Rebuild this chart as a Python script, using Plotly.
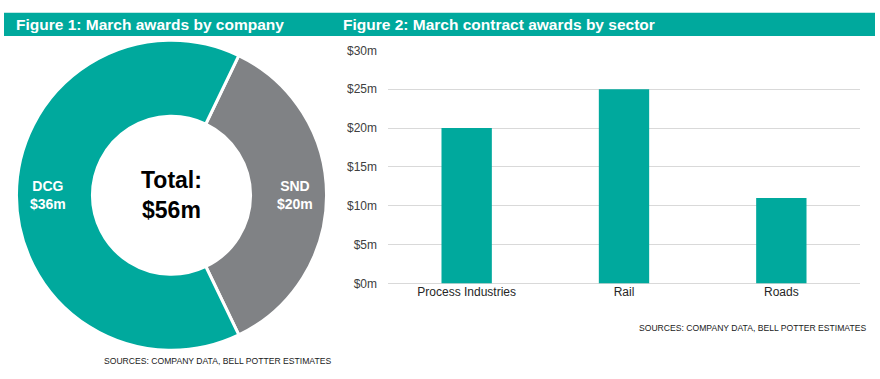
import math
import plotly.graph_objects as go

W, H = 880, 379

# Data
companies = ["SND", "DCG"]
company_values = [20, 36]
total_value = 56
sectors = ["Process Industries", "Rail", "Roads"]
sector_values = [20, 25, 11]
y_ticks = [0, 5, 10, 15, 20, 25, 30]
y_tick_labels = ["$0m", "$5m", "$10m", "$15m", "$20m", "$25m", "$30m"]

TEAL = "#00A99D"
GREY = "#808285"
FONT = "Liberation Sans, Arial, sans-serif"

def px_x(x):
    return x / W

def px_y(y):
    return 1 - y / H

fig = go.Figure()

# Donut
cx, cy, r = 171.5, 195.5, 161
hole = 0.51
rotation = 25.7
fig.add_trace(go.Pie(
    labels=companies,
    values=company_values,
    sort=False,
    direction="clockwise",
    rotation=rotation,
    hole=hole,
    marker=dict(colors=[GREY, TEAL], line=dict(color="white", width=3)),
    textinfo="none",
    hoverinfo="skip",
    showlegend=False,
    domain=dict(x=[px_x(cx - r), px_x(cx + r)], y=[px_y(cy + r), px_y(cy - r)]),
))

# Slice labels placed at the middle of each ring segment
label_annotations = []
total = sum(company_values)
start = rotation
label_r = r * (1 + hole) / 2 + 1.5
for name, val in zip(companies, company_values):
    span = 360.0 * val / total
    mid = math.radians(start + span / 2)
    lx = cx + label_r * math.sin(mid)
    ly = cy - label_r * math.cos(mid)
    label_annotations.append(dict(
        text="<b>%s<br>$%dm</b>" % (name, val), xref="paper", yref="paper",
        x=px_x(lx), y=px_y(ly), xanchor="center", yanchor="middle", showarrow=False,
        font=dict(family=FONT, size=14, color="white")))
    start += span

# Bars
fig.add_trace(go.Bar(
    x=sectors,
    y=sector_values,
    marker=dict(color=TEAL, line=dict(width=0)),
    xaxis="x", yaxis="y",
    showlegend=False,
    hoverinfo="skip",
))

fig.update_layout(
    width=W, height=H,
    margin=dict(l=0, r=0, t=0, b=0),
    paper_bgcolor="white",
    plot_bgcolor="white",
    bargap=0.68,
    font=dict(family=FONT),
    xaxis=dict(
        domain=[px_x(388), px_x(860)],
        anchor="y",
        showgrid=False,
        showline=False,
        ticks="",
        tickfont=dict(family=FONT, size=12, color="#262626"),
    ),
    yaxis=dict(
        domain=[px_y(287), px_y(45)],
        anchor="x",
        range=[0, 30],
        tickvals=y_ticks,
        ticktext=y_tick_labels,
        showgrid=True,
        gridcolor="#D9D9D9",
        gridwidth=1,
        zeroline=True,
        zerolinecolor="#D9D9D9",
        zerolinewidth=1,
        showline=False,
        ticks="",
        ticklabelstandoff=10,
        tickfont=dict(family=FONT, size=12, color="#404040"),
    ),
    shapes=[
        dict(type="rect", xref="paper", yref="paper",
             x0=px_x(4), x1=px_x(875), y0=px_y(30), y1=px_y(6),
             fillcolor=TEAL, line=dict(width=0), layer="below"),
    ],
    annotations=[
        dict(text="<b>Figure 1: March awards by company</b>", xref="paper", yref="paper",
             x=px_x(14), y=px_y(18), xanchor="left", yanchor="middle", showarrow=False,
             font=dict(family=FONT, size=15.5, color="white")),
        dict(text="<b>Figure 2: March contract awards by sector</b>", xref="paper", yref="paper",
             x=px_x(341), y=px_y(18), xanchor="left", yanchor="middle", showarrow=False,
             font=dict(family=FONT, size=15.5, color="white")),
        dict(text="<b>Total:<br>$%dm</b>" % total_value, xref="paper", yref="paper",
             x=px_x(cx), y=px_y(cy), xanchor="center", yanchor="middle", showarrow=False,
             font=dict(family=FONT, size=23, color="black")),
        dict(text="SOURCES: COMPANY DATA, BELL POTTER ESTIMATES", xref="paper", yref="paper",
             x=px_x(333), y=px_y(368), xanchor="right", yanchor="middle", showarrow=False,
             font=dict(family=FONT, size=8.6, color="#1a1a1a")),
        dict(text="SOURCES: COMPANY DATA, BELL POTTER ESTIMATES", xref="paper", yref="paper",
             x=px_x(868), y=px_y(333), xanchor="right", yanchor="middle", showarrow=False,
             font=dict(family=FONT, size=8.6, color="#1a1a1a")),
    ] + label_annotations,
)

fig.write_html(
    "out.html",
    config={"displayModeBar": False},
    post_script="document.body.style.margin='0';document.body.style.overflow='hidden';",
)
